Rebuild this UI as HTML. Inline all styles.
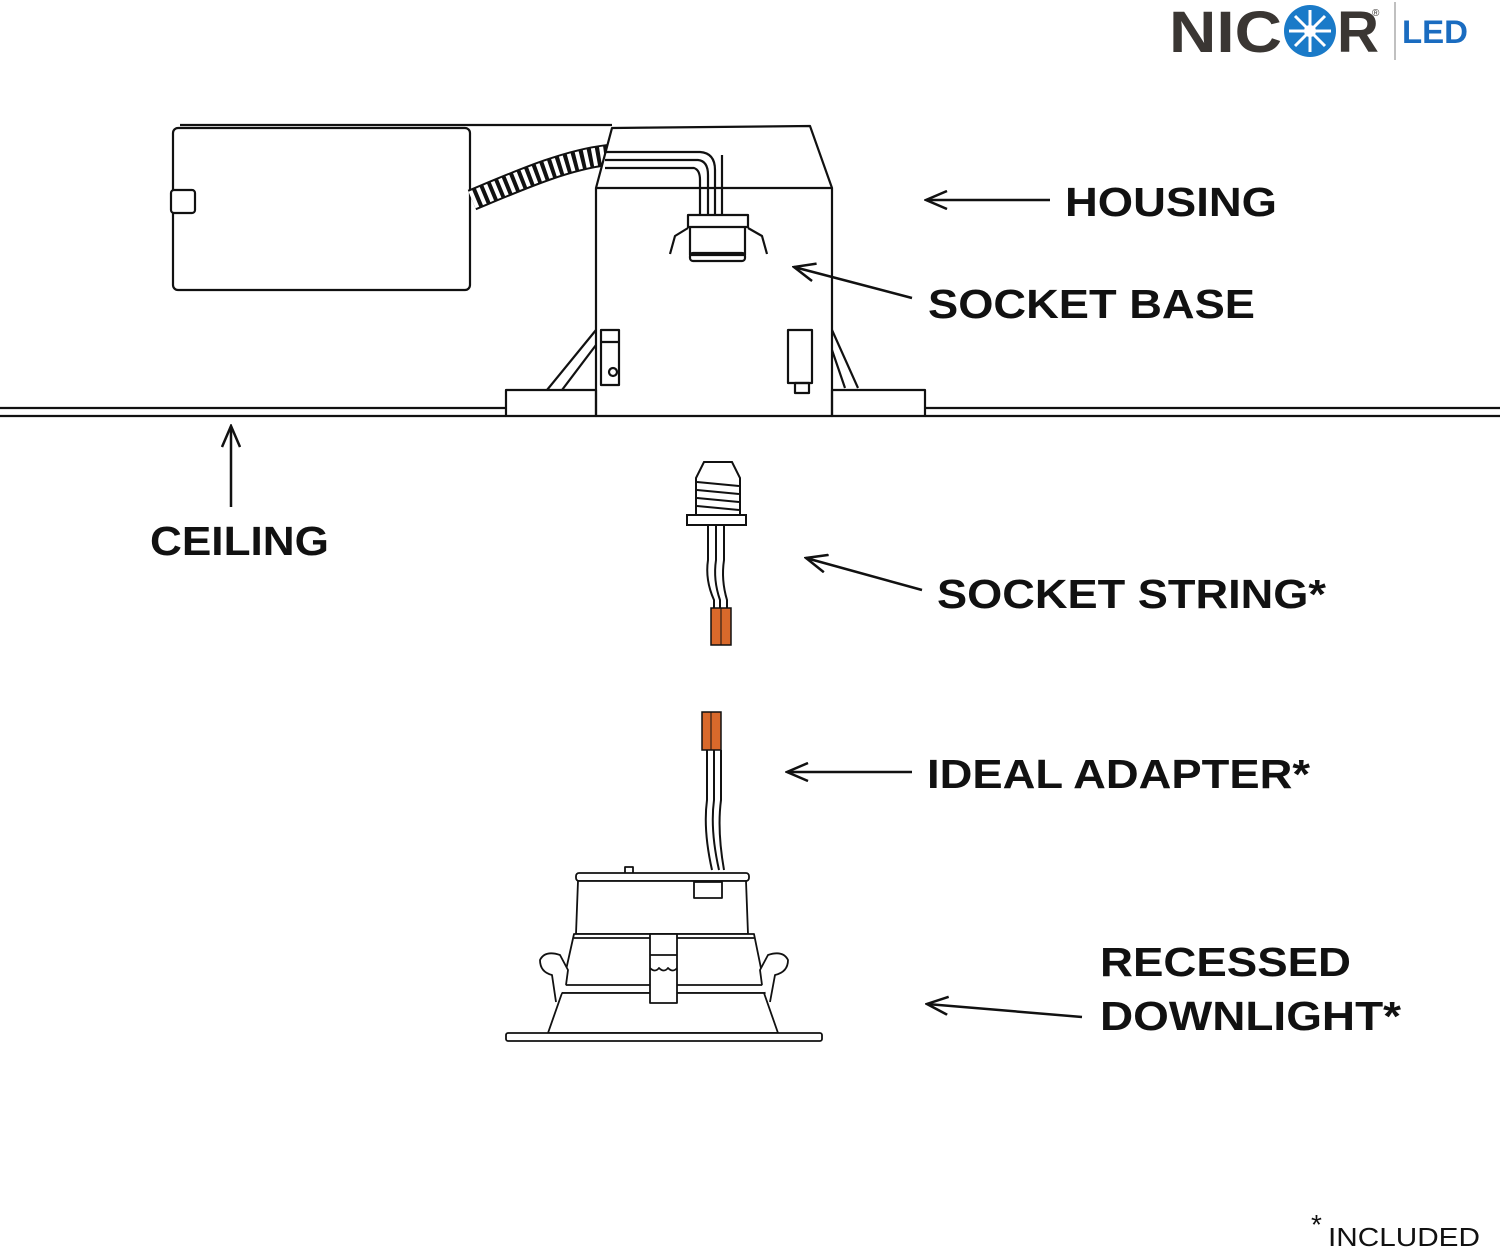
<!DOCTYPE html>
<html><head><meta charset="utf-8"><style>
html,body{margin:0;padding:0;background:#fff;}
svg{display:block;}
text{font-family:"Liberation Sans",Arial,sans-serif;font-weight:bold;fill:#111;}
</style></head><body>
<svg width="1500" height="1250" viewBox="0 0 1500 1250" xmlns="http://www.w3.org/2000/svg">
<defs>
<marker id="ah" markerWidth="24" markerHeight="20" refX="22" refY="10" orient="auto" markerUnits="userSpaceOnUse">
<path d="M1,1 L22,10 L1,19" fill="none" stroke="#111" stroke-width="2.5"/>
</marker>
</defs>
<!-- Logo -->
<text x="1169" y="52" font-size="58" textLength="113" lengthAdjust="spacingAndGlyphs" style="fill:#3a3633">NIC</text>
<circle cx="1310" cy="31" r="26" fill="#1a7ac8"/>
<g stroke="#fff" stroke-width="3">
<line x1="1310" y1="10" x2="1310" y2="52"/><line x1="1289" y1="31" x2="1331" y2="31"/>
<line x1="1295" y1="16" x2="1325" y2="46"/><line x1="1325" y1="16" x2="1295" y2="46"/>
</g>
<circle cx="1310" cy="31" r="6" fill="#fff"/>
<text x="1337" y="52" font-size="58" textLength="42" lengthAdjust="spacingAndGlyphs" style="fill:#3a3633">R</text>
<text x="1372" y="16" font-size="10" style="fill:#3a3633;font-weight:normal">®</text>
<line x1="1395" y1="2" x2="1395" y2="60" stroke="#aaa" stroke-width="1.5"/>
<text x="1402" y="43" font-size="32" textLength="66" lengthAdjust="spacingAndGlyphs" style="fill:#1a6cc0">LED</text>

<g fill="none" stroke="#111" stroke-width="2.2" stroke-linejoin="round">
<!-- ceiling -->
<line x1="0" y1="408" x2="506" y2="408"/><line x1="0" y1="416" x2="506" y2="416"/>
<line x1="925" y1="408" x2="1500" y2="408"/><line x1="925" y1="416" x2="1500" y2="416"/>
<!-- junction box -->
<rect x="173" y="128" width="297" height="162" rx="5"/>
<rect x="171" y="190" width="24" height="23" rx="3" fill="#fff"/>
<line x1="180" y1="125" x2="612" y2="125"/>
<!-- conduit coil -->
<path d="M472,200 C520,180 565,160 608,155" stroke-width="22" stroke="#111"/>
<path d="M472,200 C520,180 565,160 608,155" stroke-width="18" stroke="#fff" stroke-dasharray="4 4"/>
<!-- housing -->
<path d="M612,128 L810,126 L832,188 L832,416 L596,416 L596,188 Z" fill="#fff"/>
<line x1="596" y1="188" x2="832" y2="188"/>
<!-- wires into housing -->
<path d="M605,152 L700,152 Q715,153 715,170 L715,215"/>
<path d="M605,160 L698,160 Q708,161 708,175 L708,215"/>
<path d="M605,168 L694,168 Q700,170 700,180 L700,215"/>
<path d="M722,155 L722,215"/>
<!-- socket base -->
<rect x="688" y="215" width="60" height="12"/>
<path d="M690,227 L690,255 L745,255 L745,227"/>
<rect x="690" y="253" width="55" height="8" rx="3"/>
<path d="M688,228 L675,236 L670,254"/><path d="M748,228 L762,236 L767,254"/>
<!-- flanges -->
<rect x="506" y="390" width="90" height="26"/>
<rect x="832" y="390" width="93" height="26"/>
<path d="M596,330 L547,390 M596,345 L562,390"/>
<path d="M832,330 L858,388 M832,350 L845,388"/>
<!-- clips -->
<rect x="601" y="330" width="18" height="55"/><line x1="601" y1="342" x2="619" y2="342"/>
<circle cx="613" cy="372" r="4"/>
<rect x="788" y="330" width="24" height="53"/><rect x="795" y="383" width="14" height="10"/>
</g>

<!-- socket string -->
<g fill="none" stroke="#111" stroke-width="2">
<path d="M704,462 L732,462 L740,478 L740,515 L696,515 L696,478 Z" fill="#fff"/>
<path d="M697,482 L739,486 M697,490 L739,494 M697,498 L739,502 M697,506 L739,510"/>
<rect x="687" y="515" width="59" height="10" fill="#fff"/>
<path d="M708,525 L708,560 Q705,580 714,600 L714,610"/>
<path d="M716,525 L716,560 Q713,580 720,600 L720,610"/>
<path d="M724,525 L724,560 Q721,580 727,600 L727,610"/>
</g>
<rect x="711" y="608" width="20" height="37" fill="#d9692b" stroke="#111" stroke-width="1.5"/>
<line x1="721" y1="608" x2="721" y2="645" stroke="#111" stroke-width="1"/>

<!-- adapter -->
<rect x="702" y="712" width="19" height="38" fill="#d9692b" stroke="#111" stroke-width="1.5"/>
<line x1="711" y1="712" x2="711" y2="750" stroke="#111" stroke-width="1"/>
<g fill="none" stroke="#111" stroke-width="2">
<path d="M707,750 L707,800 Q703,830 712,870"/>
<path d="M714,750 L714,800 Q710,830 719,870"/>
<path d="M721,750 L721,800 Q717,830 724,870"/>
</g>

<!-- downlight -->
<g fill="#fff" stroke="#111" stroke-width="1.8" stroke-linejoin="round">
<rect x="625" y="867" width="8" height="8"/>
<rect x="576" y="873" width="173" height="8" rx="3"/>
<path d="M578,881 L576,934 L748,934 L746,881 Z"/>
<rect x="694" y="882" width="28" height="16"/>
<path d="M574,934 L562,988 L765,988 L754,934 Z"/>
<line x1="574" y1="938" x2="754" y2="938"/>
<rect x="560" y="985" width="207" height="8" rx="3"/>
<path d="M562,993 L548,1033 L778,1033 L764,993 Z"/>
<rect x="650" y="934" width="27" height="69"/>
<line x1="650" y1="955" x2="677" y2="955"/>
<path d="M650,968 q5,5 9,0 q5,5 9,0 q5,5 9,0"/>
<path d="M556,1002 L552,975 Q540,972 540,960 Q545,950 560,955 L568,970 L566,985"/>
<path d="M770,1002 L775,975 Q788,972 788,960 Q783,950 768,955 L760,970 L762,985"/>
<rect x="506" y="1033" width="316" height="8" rx="2"/>
</g>

<!-- arrows -->
<g stroke="#111" stroke-width="2.5" fill="none">
<line x1="1050" y1="200" x2="926" y2="200" marker-end="url(#ah)"/>
<line x1="912" y1="298" x2="794" y2="267" marker-end="url(#ah)"/>
<line x1="231" y1="507" x2="231" y2="426" marker-end="url(#ah)"/>
<line x1="922" y1="590" x2="806" y2="558" marker-end="url(#ah)"/>
<line x1="912" y1="772" x2="787" y2="772" marker-end="url(#ah)"/>
<line x1="1082" y1="1017" x2="927" y2="1004" marker-end="url(#ah)"/>
</g>

<!-- labels -->
<g font-size="41">
<text x="1065" y="216" textLength="212" lengthAdjust="spacingAndGlyphs">HOUSING</text>
<text x="928" y="318" textLength="327" lengthAdjust="spacingAndGlyphs">SOCKET BASE</text>
<text x="150" y="555" textLength="179" lengthAdjust="spacingAndGlyphs">CEILING</text>
<text x="937" y="608" textLength="389" lengthAdjust="spacingAndGlyphs">SOCKET STRING*</text>
<text x="927" y="788" textLength="383" lengthAdjust="spacingAndGlyphs">IDEAL ADAPTER*</text>
<text x="1100" y="976" textLength="251" lengthAdjust="spacingAndGlyphs">RECESSED</text>
<text x="1100" y="1030" textLength="301" lengthAdjust="spacingAndGlyphs">DOWNLIGHT*</text>
</g>
<text x="1311" y="1234" font-size="28" style="font-weight:normal">*</text>
<text x="1328" y="1246" font-size="26" textLength="152" lengthAdjust="spacingAndGlyphs" style="font-weight:normal">INCLUDED</text>
</svg>
</body></html>
